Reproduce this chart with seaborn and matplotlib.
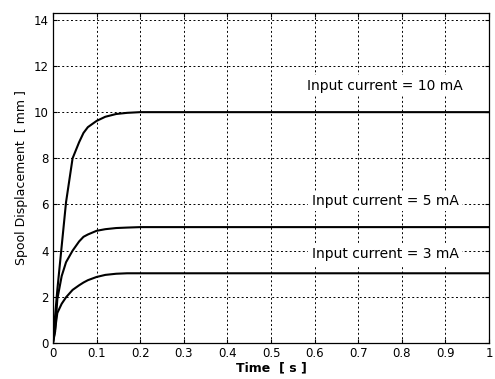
import matplotlib
matplotlib.use("Agg")
import matplotlib.pyplot as plt
import seaborn as sns
import pandas as pd

# values
time_s = [0, 0.005, 0.01, 0.02, 0.03, 0.045, 0.06, 0.07, 0.08, 0.1, 0.12, 0.145, 0.17, 0.2, 0.3, 0.5, 1.0]
disp_10mA = [0, 1.2, 2.3, 4.2, 6.1, 8.0, 8.7, 9.1, 9.35, 9.62, 9.8, 9.92, 9.97, 10.0, 10.0, 10.0, 10.0]
disp_5mA = [0, 0.5, 1.9, 2.9, 3.5, 4.0, 4.4, 4.6, 4.7, 4.86, 4.93, 4.98, 5.0, 5.02, 5.02, 5.02, 5.02]
disp_3mA = [0, 0.6, 1.3, 1.7, 1.98, 2.3, 2.5, 2.62, 2.72, 2.86, 2.95, 3.0, 3.02, 3.02, 3.02, 3.02, 3.02]
labels = ["Input current = 10 mA", "Input current = 5 mA", "Input current = 3 mA"]
label_x = [0.76, 0.762, 0.762]
label_y = [11.15, 6.15, 3.85]

df = pd.concat([
    pd.DataFrame({"t": time_s, "y": disp_10mA, "cur": "10"}),
    pd.DataFrame({"t": time_s, "y": disp_5mA, "cur": "5"}),
    pd.DataFrame({"t": time_s, "y": disp_3mA, "cur": "3"}),
])

sns.set_style("ticks")
plt.rcParams["font.family"] = ["DejaVu Sans"]
plt.rcParams["text.color"] = "black"
plt.rcParams["axes.labelcolor"] = "black"

fig = plt.figure(figsize=(4.95, 3.79), dpi=100)
ax = fig.add_axes([0.107, 0.095, 0.881, 0.871])

sns.lineplot(data=df, x="t", y="y", hue="cur", palette=["black"] * 3,
             estimator=None, linewidth=1.5, legend=False, ax=ax)

ax.set_xlim(0, 1)
ax.set_ylim(0, 14.3)
ax.set_xticks([i / 10 for i in range(11)])
ax.set_xticklabels(["0", "0.1", "0.2", "0.3", "0.4", "0.5", "0.6", "0.7", "0.8", "0.9", "1"])
ax.set_yticks(range(0, 15, 2))
ax.grid(True, color="black", linestyle=(0, (2, 2.5)), linewidth=0.7)
ax.tick_params(direction="in", length=3, labelsize=8.5, top=True, right=True,
               colors="black", pad=3)
for s in ax.spines.values():
    s.set_color("black")
    s.set_linewidth(0.9)

for txt, x, y in zip(labels, label_x, label_y):
    ax.text(x, y, txt, ha="center", va="center", fontsize=10, color="black",
            bbox=dict(facecolor="white", edgecolor="none", pad=2.5), zorder=5)

ax.set_xlabel("Time  [ s ]", fontsize=9, fontweight="semibold", labelpad=1)
ax.set_ylabel("Spool Displacement  [ mm ]", fontsize=9, labelpad=4)

fig.savefig("out.png", dpi=100)
